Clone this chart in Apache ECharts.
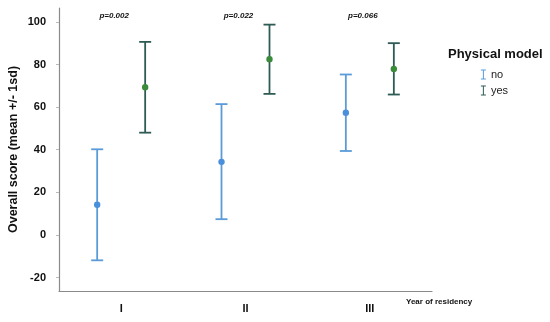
<!DOCTYPE html>
<html><head><meta charset="utf-8">
<script src="https://cdn.jsdelivr.net/npm/echarts@6/dist/echarts.min.js"></script>
<style>html,body{margin:0;padding:0;background:#fff}#c{width:550px;height:322px}</style>
</head><body><div id="c"></div>
<script>
var categories = ['I', 'II', 'III'];
var noMean = [14.2, 34.3, 57.4];
var noLow = [-11.9, 7.4, 39.4];
var noHigh = [40.2, 61.4, 75.3];
var yesMean = [69.3, 82.5, 77.9];
var yesLow = [48.0, 66.2, 65.9];
var yesHigh = [90.6, 98.7, 90.0];
var pValues = ['p=0.002', 'p=0.022', 'p=0.066'];
var yTicks = [-20, 0, 20, 40, 60, 80, 100];
var pLabelY = 103;

var noColor = '#5a9bd8', noDot = '#4a8fdc';
var yesColor = '#2e5c55', yesDot = '#3a8c3a';

function errData(mean, low, high) {
  return categories.map(function (c, i) { return [i, mean[i], low[i], high[i]]; });
}
function errRender(side, lineColor, dotColor) {
  return function (params, api) {
    var band = api.size([1, 0])[0];
    var off = side * band * 0.193;
    var m = api.coord([api.value(0), api.value(1)]);
    var lo = api.coord([api.value(0), api.value(2)]);
    var hi = api.coord([api.value(0), api.value(3)]);
    var x = m[0] + off, cap = 6;
    var st = { stroke: lineColor, lineWidth: 1.8 };
    return { type: 'group', children: [
      { type: 'line', shape: { x1: x, y1: lo[1], x2: x, y2: hi[1] }, style: st },
      { type: 'line', shape: { x1: x - cap, y1: lo[1], x2: x + cap, y2: lo[1] }, style: st },
      { type: 'line', shape: { x1: x - cap, y1: hi[1], x2: x + cap, y2: hi[1] }, style: st },
      { type: 'circle', shape: { cx: x, cy: m[1], r: 3.2 }, style: { fill: dotColor } }
    ]};
  };
}
var iconPath = 'path://M0,0H10V2H6V18H10V20H0V18H4V2H0Z';

var chart = echarts.init(document.getElementById('c'));
chart.setOption({
  animation: false,
  grid: { left: 59, right: 118, top: 8, bottom: 31, containLabel: false, outerBoundsMode: 'none' },
  xAxis: {
    type: 'category', data: categories,
    axisLine: { onZero: false, lineStyle: { color: '#8a8a8a', width: 1.2 } },
    axisTick: { alignWithLabel: true, length: 5, lineStyle: { color: '#8a8a8a' } },
    axisLabel: { color: '#111', fontWeight: 'bold', fontSize: 11, fontFamily: 'Liberation Sans', margin: 12 }
  },
  yAxis: {
    type: 'value', min: -26.3, max: 106.5, interval: 20,
    name: 'Overall score (mean +/- 1sd)', nameLocation: 'middle', nameGap: 39, nameMoveOverlap: false,
    nameTextStyle: { color: '#111', fontWeight: 'bold', fontSize: 12.5, fontFamily: 'Liberation Sans' },
    axisLine: { show: true, lineStyle: { color: '#8a8a8a', width: 1.2 } },
    axisTick: { show: true, length: 3, lineStyle: { color: '#bbb' }, customValues: yTicks },
    axisLabel: { color: '#111', fontWeight: 'bold', fontSize: 11, fontFamily: 'Liberation Sans', margin: 13, customValues: yTicks },
    splitLine: { show: false }
  },
  legend: {
    right: 37, top: 64, orient: 'vertical', itemWidth: 5, itemHeight: 10, itemGap: 5,
    textStyle: { color: '#222', fontSize: 11, fontFamily: 'Liberation Sans' },
    data: [{ name: 'no', icon: iconPath, itemStyle: { color: noColor } }, { name: 'yes', icon: iconPath, itemStyle: { color: yesColor } }]
  },
  graphic: [
    { type: 'text', left: 448, top: 48, style: { text: 'Physical model', fontWeight: 'bold', fontSize: 13, fontFamily: 'Liberation Sans', fill: '#111' } },
    { type: 'text', left: 406, top: 298, style: { text: 'Year of residency', fontWeight: 'bold', fontSize: 8, fontFamily: 'Liberation Sans', fill: '#111' } }
  ],
  series: [
    { name: 'no', type: 'custom', itemStyle: { color: noColor }, renderItem: errRender(-1, noColor, noDot),
      encode: { x: 0, y: [1, 2, 3] }, data: errData(noMean, noLow, noHigh) },
    { name: 'yes', type: 'custom', itemStyle: { color: yesColor }, renderItem: errRender(1, yesColor, yesDot),
      encode: { x: 0, y: [1, 2, 3] }, data: errData(yesMean, yesLow, yesHigh) },
    { name: 'p', type: 'custom', silent: true,
      renderItem: function (params, api) {
        var p = api.coord([api.value(0), api.value(1)]);
        return { type: 'text', x: p[0] - 7, y: p[1], style: { text: pValues[params.dataIndex], align: 'center', verticalAlign: 'middle',
          fontSize: 8, fontWeight: 'bold', fontStyle: 'italic', fontFamily: 'Liberation Sans', fill: '#111' } };
      },
      encode: { x: 0, y: 1 }, data: categories.map(function (c, i) { return [i, pLabelY]; }) }
  ]
});
</script></body></html>
